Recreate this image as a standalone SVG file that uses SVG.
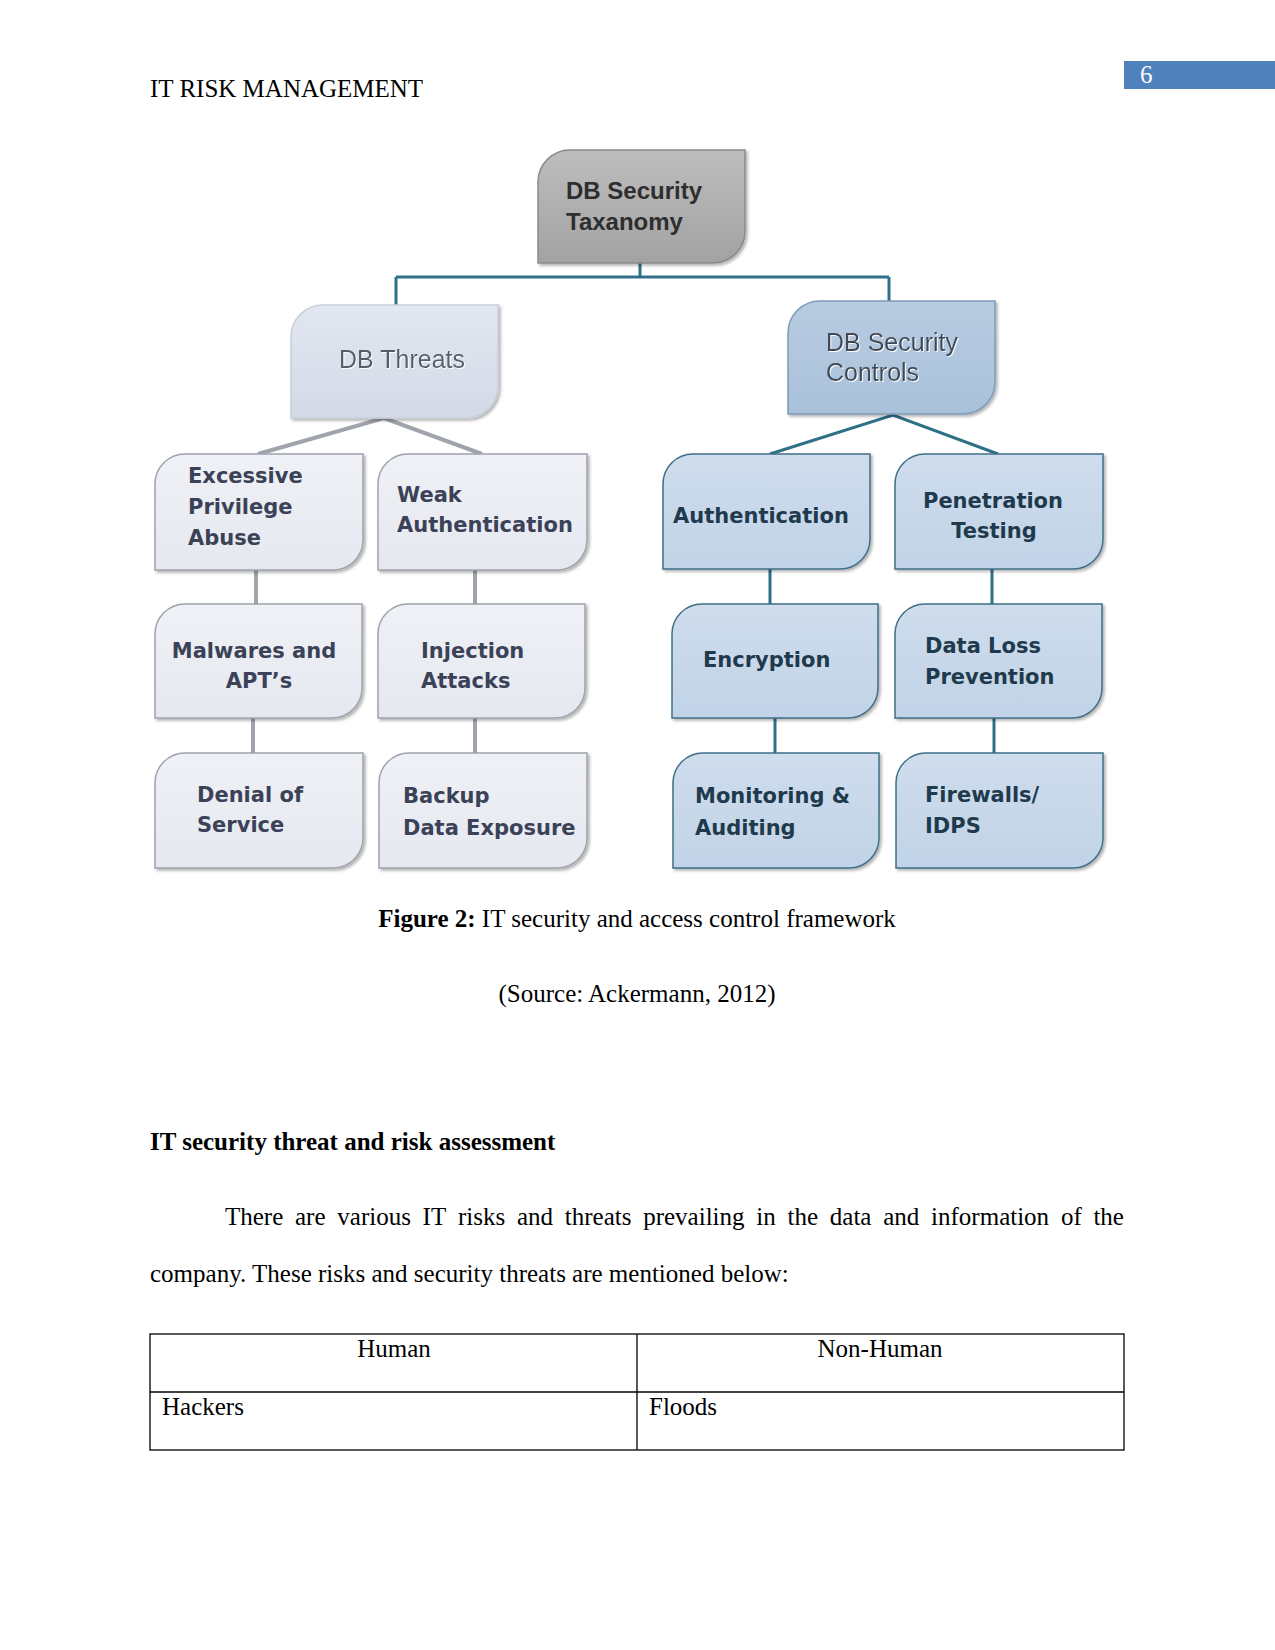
<svg xmlns="http://www.w3.org/2000/svg" width="1275" height="1650" viewBox="0 0 1275 1650">
<defs>
<style>
.page{font-family:"Liberation Serif","Times New Roman",serif;font-size:25px;fill:#000}
.b{font-weight:bold}
.lt{font-family:"DejaVu Sans",sans-serif;font-weight:bold;font-size:21px;fill:#3b4257}
.rt{font-family:"DejaVu Sans",sans-serif;font-weight:bold;font-size:21px;fill:#1f3a4d}
.top{font-family:"Liberation Sans",Arial,sans-serif;font-weight:bold;font-size:24px;fill:#2e2e2e}
.mid{font-family:"Liberation Sans",Arial,sans-serif;font-size:25px}
.lbox{fill:url(#gl);stroke:#9ea3ad;stroke-width:1.5}
.rbox{fill:url(#gr);stroke:#3f6f88;stroke-width:1.5}
.gc{stroke:#a0a4ac;stroke-width:4;fill:none}
.tc{stroke:#2e7088;stroke-width:3;fill:none}
</style>
<linearGradient id="gt" x1="0" y1="0" x2="0" y2="1"><stop offset="0" stop-color="#bdbdbd"/><stop offset="1" stop-color="#a2a2a2"/></linearGradient>
<linearGradient id="gth" x1="0" y1="0" x2="0" y2="1"><stop offset="0" stop-color="#e2e7f0"/><stop offset="1" stop-color="#d3dae7"/></linearGradient>
<linearGradient id="gsc" x1="0" y1="0" x2="0" y2="1"><stop offset="0" stop-color="#b8cce1"/><stop offset="1" stop-color="#a9c1da"/></linearGradient>
<linearGradient id="gl" x1="0" y1="0" x2="0" y2="1"><stop offset="0" stop-color="#eff1f6"/><stop offset="1" stop-color="#e5e8ef"/></linearGradient>
<linearGradient id="gr" x1="0" y1="0" x2="0" y2="1"><stop offset="0" stop-color="#cfdded"/><stop offset="1" stop-color="#c1d3e7"/></linearGradient>
<filter id="sh" x="-10%" y="-10%" width="125%" height="125%"><feDropShadow dx="2" dy="2" stdDeviation="1.5" flood-color="#000" flood-opacity="0.3"/></filter>
<filter id="ts" x="-5%" y="-20%" width="110%" height="140%"><feDropShadow dx="1" dy="1" stdDeviation="0.6" flood-color="#ffffff" flood-opacity="0.9"/></filter>
</defs>
<rect width="1275" height="1650" fill="#fff"/>

<g id="header">
<text class="page" x="150" y="97">IT RISK MANAGEMENT</text>
<rect x="1124" y="61" width="151" height="28" fill="#4f81bd"/>
<text class="page" x="1140" y="83" fill="#fff" style="fill:#fff">6</text>
</g>

<g id="connectors">
<path class="tc" d="M640,263 V277 M396,277 H889 M396,277 V305 M889,277 V301"/>
<path class="gc" d="M258,454 L384,418 L482,454"/>
<path class="gc" d="M256,570 V604 M475,570 V604 M253,718 V753 M475,718 V753"/>
<path class="tc" d="M770,454 L893,415 L998,454"/>
<path class="tc" d="M770,569 V604 M992,569 V604 M775,718 V753 M994,718 V753"/>
</g>

<g id="node-taxonomy">
<path d="M570,150 H745 V231 A32,32 0 0 1 713,263 H538 V182 A32,32 0 0 1 570,150 Z" fill="url(#gt)" stroke="#8a8a8a" stroke-width="1.5" filter="url(#sh)"/>
<text class="top" x="566" y="199">DB Security</text>
<text class="top" x="566" y="230">Taxanomy</text>
</g>

<g id="node-threats">
<path d="M323,305 H498 V386 A32,32 0 0 1 466,418 H291 V337 A32,32 0 0 1 323,305 Z" fill="url(#gth)" stroke="#c9cfda" stroke-width="1.5" filter="url(#sh)"/>
<text class="mid" x="339" y="368" fill="#575c68" filter="url(#ts)">DB Threats</text>
</g>

<g id="node-controls">
<path d="M820,301 H995 V382 A32,32 0 0 1 963,414 H788 V333 A32,32 0 0 1 820,301 Z" fill="url(#gsc)" stroke="#7d9cb8" stroke-width="1.5" filter="url(#sh)"/>
<text class="mid" x="826" y="351" fill="#3c4856" filter="url(#ts)">DB Security</text>
<text class="mid" x="826" y="381" fill="#3c4856" filter="url(#ts)">Controls</text>
</g>

<g id="node-excessive">
<path class="lbox" filter="url(#sh)" d="M185,454 H363 V540 A30,30 0 0 1 333,570 H155 V484 A30,30 0 0 1 185,454 Z"/>
<text class="lt" x="188" y="483">Excessive</text>
<text class="lt" x="188" y="514">Privilege</text>
<text class="lt" x="188" y="545">Abuse</text>
</g>
<g id="node-weak">
<path class="lbox" filter="url(#sh)" d="M408,454 H587 V540 A30,30 0 0 1 557,570 H378 V484 A30,30 0 0 1 408,454 Z"/>
<text class="lt" x="397" y="502">Weak</text>
<text class="lt" x="397" y="532">Authentication</text>
</g>
<g id="node-malwares">
<path class="lbox" filter="url(#sh)" d="M185,604 H362 V688 A30,30 0 0 1 332,718 H155 V634 A30,30 0 0 1 185,604 Z"/>
<text class="lt" x="254" y="658" text-anchor="middle">Malwares and</text>
<text class="lt" x="259" y="688" text-anchor="middle">APT’s</text>
</g>
<g id="node-injection">
<path class="lbox" filter="url(#sh)" d="M408,604 H585 V688 A30,30 0 0 1 555,718 H378 V634 A30,30 0 0 1 408,604 Z"/>
<text class="lt" x="421" y="658">Injection</text>
<text class="lt" x="421" y="688">Attacks</text>
</g>
<g id="node-denial">
<path class="lbox" filter="url(#sh)" d="M185,753 H363 V838 A30,30 0 0 1 333,868 H155 V783 A30,30 0 0 1 185,753 Z"/>
<text class="lt" x="197" y="802">Denial of</text>
<text class="lt" x="197" y="832">Service</text>
</g>
<g id="node-backup">
<path class="lbox" filter="url(#sh)" d="M409,753 H587 V838 A30,30 0 0 1 557,868 H379 V783 A30,30 0 0 1 409,753 Z"/>
<text class="lt" x="403" y="803">Backup</text>
<text class="lt" x="403" y="835">Data Exposure</text>
</g>

<g id="node-authentication">
<path class="rbox" filter="url(#sh)" d="M693,454 H870 V539 A30,30 0 0 1 840,569 H663 V484 A30,30 0 0 1 693,454 Z"/>
<text class="rt" x="673" y="523">Authentication</text>
</g>
<g id="node-penetration">
<path class="rbox" filter="url(#sh)" d="M925,454 H1103 V539 A30,30 0 0 1 1073,569 H895 V484 A30,30 0 0 1 925,454 Z"/>
<text class="rt" x="993" y="508" text-anchor="middle">Penetration</text>
<text class="rt" x="994" y="538" text-anchor="middle">Testing</text>
</g>
<g id="node-encryption">
<path class="rbox" filter="url(#sh)" d="M702,604 H878 V688 A30,30 0 0 1 848,718 H672 V634 A30,30 0 0 1 702,604 Z"/>
<text class="rt" x="703" y="667">Encryption</text>
</g>
<g id="node-dlp">
<path class="rbox" filter="url(#sh)" d="M925,604 H1102 V688 A30,30 0 0 1 1072,718 H895 V634 A30,30 0 0 1 925,604 Z"/>
<text class="rt" x="925" y="653">Data Loss</text>
<text class="rt" x="925" y="684">Prevention</text>
</g>
<g id="node-monitoring">
<path class="rbox" filter="url(#sh)" d="M703,753 H879 V838 A30,30 0 0 1 849,868 H673 V783 A30,30 0 0 1 703,753 Z"/>
<text class="rt" x="695" y="803">Monitoring &amp;</text>
<text class="rt" x="695" y="835">Auditing</text>
</g>
<g id="node-firewalls">
<path class="rbox" filter="url(#sh)" d="M926,753 H1103 V838 A30,30 0 0 1 1073,868 H896 V783 A30,30 0 0 1 926,753 Z"/>
<text class="rt" x="925" y="802">Firewalls/</text>
<text class="rt" x="925" y="833">IDPS</text>
</g>

<g id="body">
<text class="page" x="637" y="927" text-anchor="middle"><tspan class="b">Figure 2:</tspan> IT security and access control framework</text>
<text class="page" x="637" y="1002" text-anchor="middle">(Source: Ackermann, 2012)</text>
<text class="page b" x="150" y="1150">IT security threat and risk assessment</text>
<text class="page" y="1225"><tspan x="225">There</tspan><tspan x="295">are</tspan><tspan x="337.3">various</tspan><tspan x="422.6">IT</tspan><tspan x="458">risks</tspan><tspan x="517">and</tspan><tspan x="564.8">threats</tspan><tspan x="643.2">prevailing</tspan><tspan x="756.3">in</tspan><tspan x="787.5">the</tspan><tspan x="829.8">data</tspan><tspan x="883.2">and</tspan><tspan x="931.1">information</tspan><tspan x="1060.9">of</tspan><tspan x="1093.4">the</tspan></text>
<text class="page" x="150" y="1282">company. These risks and security threats are mentioned below:</text>
</g>

<g id="table" fill="none" stroke="#000" stroke-width="1.3">
<rect x="150" y="1334" width="974" height="116"/>
<line x1="150" y1="1392" x2="1124" y2="1392"/>
<line x1="637" y1="1334" x2="637" y2="1450"/>
</g>
<g id="table-text">
<text class="page" x="394" y="1357" text-anchor="middle">Human</text>
<text class="page" x="880" y="1357" text-anchor="middle">Non-Human</text>
<text class="page" x="162" y="1415">Hackers</text>
<text class="page" x="649" y="1415">Floods</text>
</g>
</svg>
